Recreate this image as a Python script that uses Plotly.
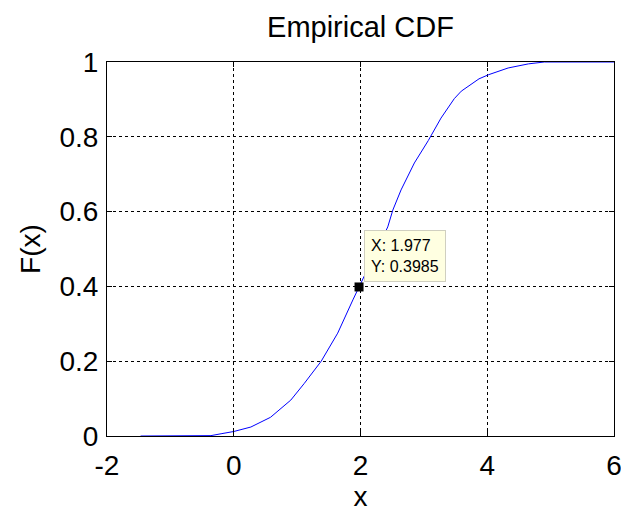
import plotly.graph_objects as go

# Curve points (x, F(x))
x_vals = [-1.47, -0.36, -0.2, 0.0, 0.27, 0.58, 0.9, 1.11, 1.38, 1.64, 1.88, 1.977,
          2.2, 2.43, 2.51, 2.64, 2.85, 3.07, 3.27, 3.38, 3.48, 3.59, 3.75, 3.87, 4.02,
          4.33, 4.65, 4.9, 6.0]
f_vals = [0.0, 0.001, 0.006, 0.012, 0.024, 0.05, 0.096, 0.14, 0.2, 0.275, 0.364, 0.3985,
          0.48, 0.559, 0.604, 0.658, 0.73, 0.79, 0.85, 0.877, 0.902, 0.922, 0.942, 0.955, 0.966,
          0.984, 0.995, 1.0, 1.0]

tip_x = [1.977]
tip_y = [0.3985]

x_ticks = [-2, 0, 2, 4, 6]
y_ticks = [0, 0.2, 0.4, 0.6, 0.8, 1]
y_tick_labels = ["0", "0.2", "0.4", "0.6", "0.8", "1"]

font_family = "Liberation Sans, Arial, sans-serif"

fig = go.Figure()
fig.add_trace(go.Scatter(x=x_vals, y=f_vals, mode="lines",
                         line=dict(color="#0000FF", width=1), showlegend=False,
                         hoverinfo="skip"))
fig.add_trace(go.Scatter(x=tip_x, y=tip_y, mode="markers",
                         marker=dict(symbol="square", size=9, color="black"),
                         showlegend=False, hoverinfo="skip"))

fig.add_annotation(x=tip_x[0], y=tip_y[0], xref="x", yref="y",
                   text="X: %.3f<br>Y: %.4f" % (tip_x[0], tip_y[0]),
                   showarrow=False, xanchor="left", yanchor="bottom",
                   xshift=5, yshift=5, align="left",
                   font=dict(family=font_family, size=16, color="black"),
                   bgcolor="#FFFFE1", bordercolor="#D0CFC0", borderwidth=1, borderpad=6)

axis_common = dict(showline=True, linecolor="black", linewidth=1, mirror="ticks",
                   ticks="inside", ticklen=5, tickcolor="black",
                   showgrid=True, gridcolor="black", gridwidth=1, griddash="dot",
                   zeroline=False, ticklabeloverflow="allow", automargin=False,
                   tickfont=dict(family=font_family, size=28, color="black"))

fig.update_layout(
    width=621, height=513,
    margin=dict(l=107, r=7, t=62, b=77),
    paper_bgcolor="white", plot_bgcolor="white",
    hovermode=False,
    title=dict(text="Empirical CDF", x=0.5, xanchor="center", y=0.947, yanchor="middle",
               xref="paper",
               font=dict(family=font_family, size=29, color="black")),
    xaxis=dict(range=[-2, 6], tickvals=x_ticks, ticktext=[str(v) for v in x_ticks],
               title=dict(text="x", font=dict(family=font_family, size=28, color="black"),
                          standoff=6),
               ticklabelstandoff=4,
               **axis_common),
    yaxis=dict(range=[0, 1], tickvals=y_ticks, ticktext=y_tick_labels,
               title=dict(text="F(x)", font=dict(family=font_family, size=28, color="black"),
                          standoff=10),
               ticklabelstandoff=2,
               **axis_common),
)

fig.write_html("out.html", config={"displayModeBar": False},
               post_script="document.body.style.margin='0';document.body.style.overflow='hidden';")
